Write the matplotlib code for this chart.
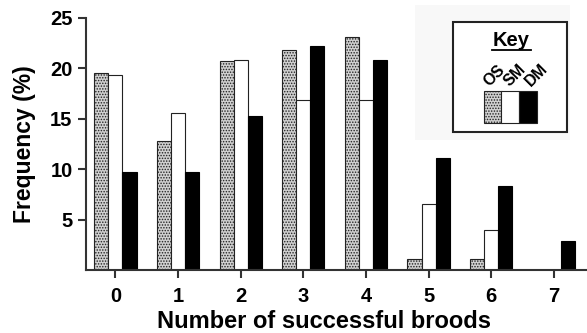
import numpy as np
import matplotlib.pyplot as plt
from matplotlib.patches import Rectangle

plt.rcParams['font.family'] = ['Liberation Sans', 'DejaVu Sans']
plt.rcParams['font.weight'] = 'bold'
plt.rcParams['hatch.linewidth'] = 0.7
plt.rcParams['hatch.color'] = '#444444'

# Data
broods = [0, 1, 2, 3, 4, 5, 6, 7]
os_freq = [19.6, 12.8, 20.7, 21.8, 23.1, 1.1, 1.1, 0.0]
sm_freq = [19.4, 15.6, 20.8, 16.9, 16.9, 6.6, 4.0, 0.0]
dm_freq = [9.7, 9.7, 15.3, 22.2, 20.8, 11.1, 8.4, 2.9]
yticks = [5, 10, 15, 20, 25]

fig = plt.figure(figsize=(5.87, 3.33), dpi=100)
ax = fig.add_axes([0.146, 0.188, 0.854, 0.758])

x = np.array(broods)
w = 0.225
os_fc = '#d0d0d0'
os_hatch = '......'
ax.bar(x - w, os_freq, w, facecolor=os_fc, edgecolor='#222222',
       hatch=os_hatch, linewidth=0.8)
ax.bar(x, sm_freq, w, facecolor='white', edgecolor='#222222', linewidth=0.8)
ax.bar(x + w, dm_freq, w, facecolor='black', edgecolor='black', linewidth=0.8)

ax.set_xlim(-0.475, 7.53)
ax.set_ylim(0, 25)
ax.set_xticks(broods)
ax.set_yticks(yticks)
ax.tick_params(labelsize=14.5, width=1.5, length=6, color='#333333')
ax.tick_params(axis='x', pad=6)
for s in ['top', 'right']:
    ax.spines[s].set_visible(False)
for s in ['left', 'bottom']:
    ax.spines[s].set_linewidth(1.5)
    ax.spines[s].set_color('#333333')

ax.set_xlabel('Number of successful broods', fontsize=17, fontweight='bold')
ax.xaxis.set_label_coords(0.475, -0.158)
ax.set_ylabel('Frequency (%)', fontsize=16.5, fontweight='bold', labelpad=10)

# key box
fig.patches.append(Rectangle((415 / 587, 1 - 140 / 333), 155 / 587, 135 / 333,
                             transform=fig.transFigure, facecolor='#f8f8f8',
                             edgecolor='none', zorder=0))
fig.patches.append(Rectangle((453 / 587, 1 - 131.5 / 333), 113.5 / 587, 109 / 333,
                             transform=fig.transFigure, facecolor='white',
                             edgecolor='#222222', linewidth=1.5, zorder=1))
fig.text(511.5 / 587, 1 - 40 / 333, 'Key', ha='center', va='center',
         fontsize=14.5, fontweight='bold')
fig.lines.append(plt.Line2D([492 / 587, 531 / 587], [1 - 49.5 / 333, 1 - 49.5 / 333],
                            transform=fig.transFigure, color='black', linewidth=1.3))
key_x = [483.5, 501, 519]
key_fc = [os_fc, 'white', 'black']
key_hatch = [os_hatch, None, None]
for kx, fc, h in zip(key_x, key_fc, key_hatch):
    fig.patches.append(Rectangle((kx / 587, 1 - 123 / 333), 18 / 587, 32 / 333,
                                 transform=fig.transFigure, facecolor=fc,
                                 edgecolor='#222222', hatch=h, linewidth=0.8, zorder=2))
key_lab = ['OS', 'SM', 'DM']
lab_x = [489, 510, 531]
for lx, lab in zip(lab_x, key_lab):
    fig.text(lx / 587, 1 - 87 / 333, lab, rotation=45, ha='left', va='baseline',
             rotation_mode='anchor', fontsize=11.5, fontweight='bold')

fig.savefig('out.png', dpi=100)
